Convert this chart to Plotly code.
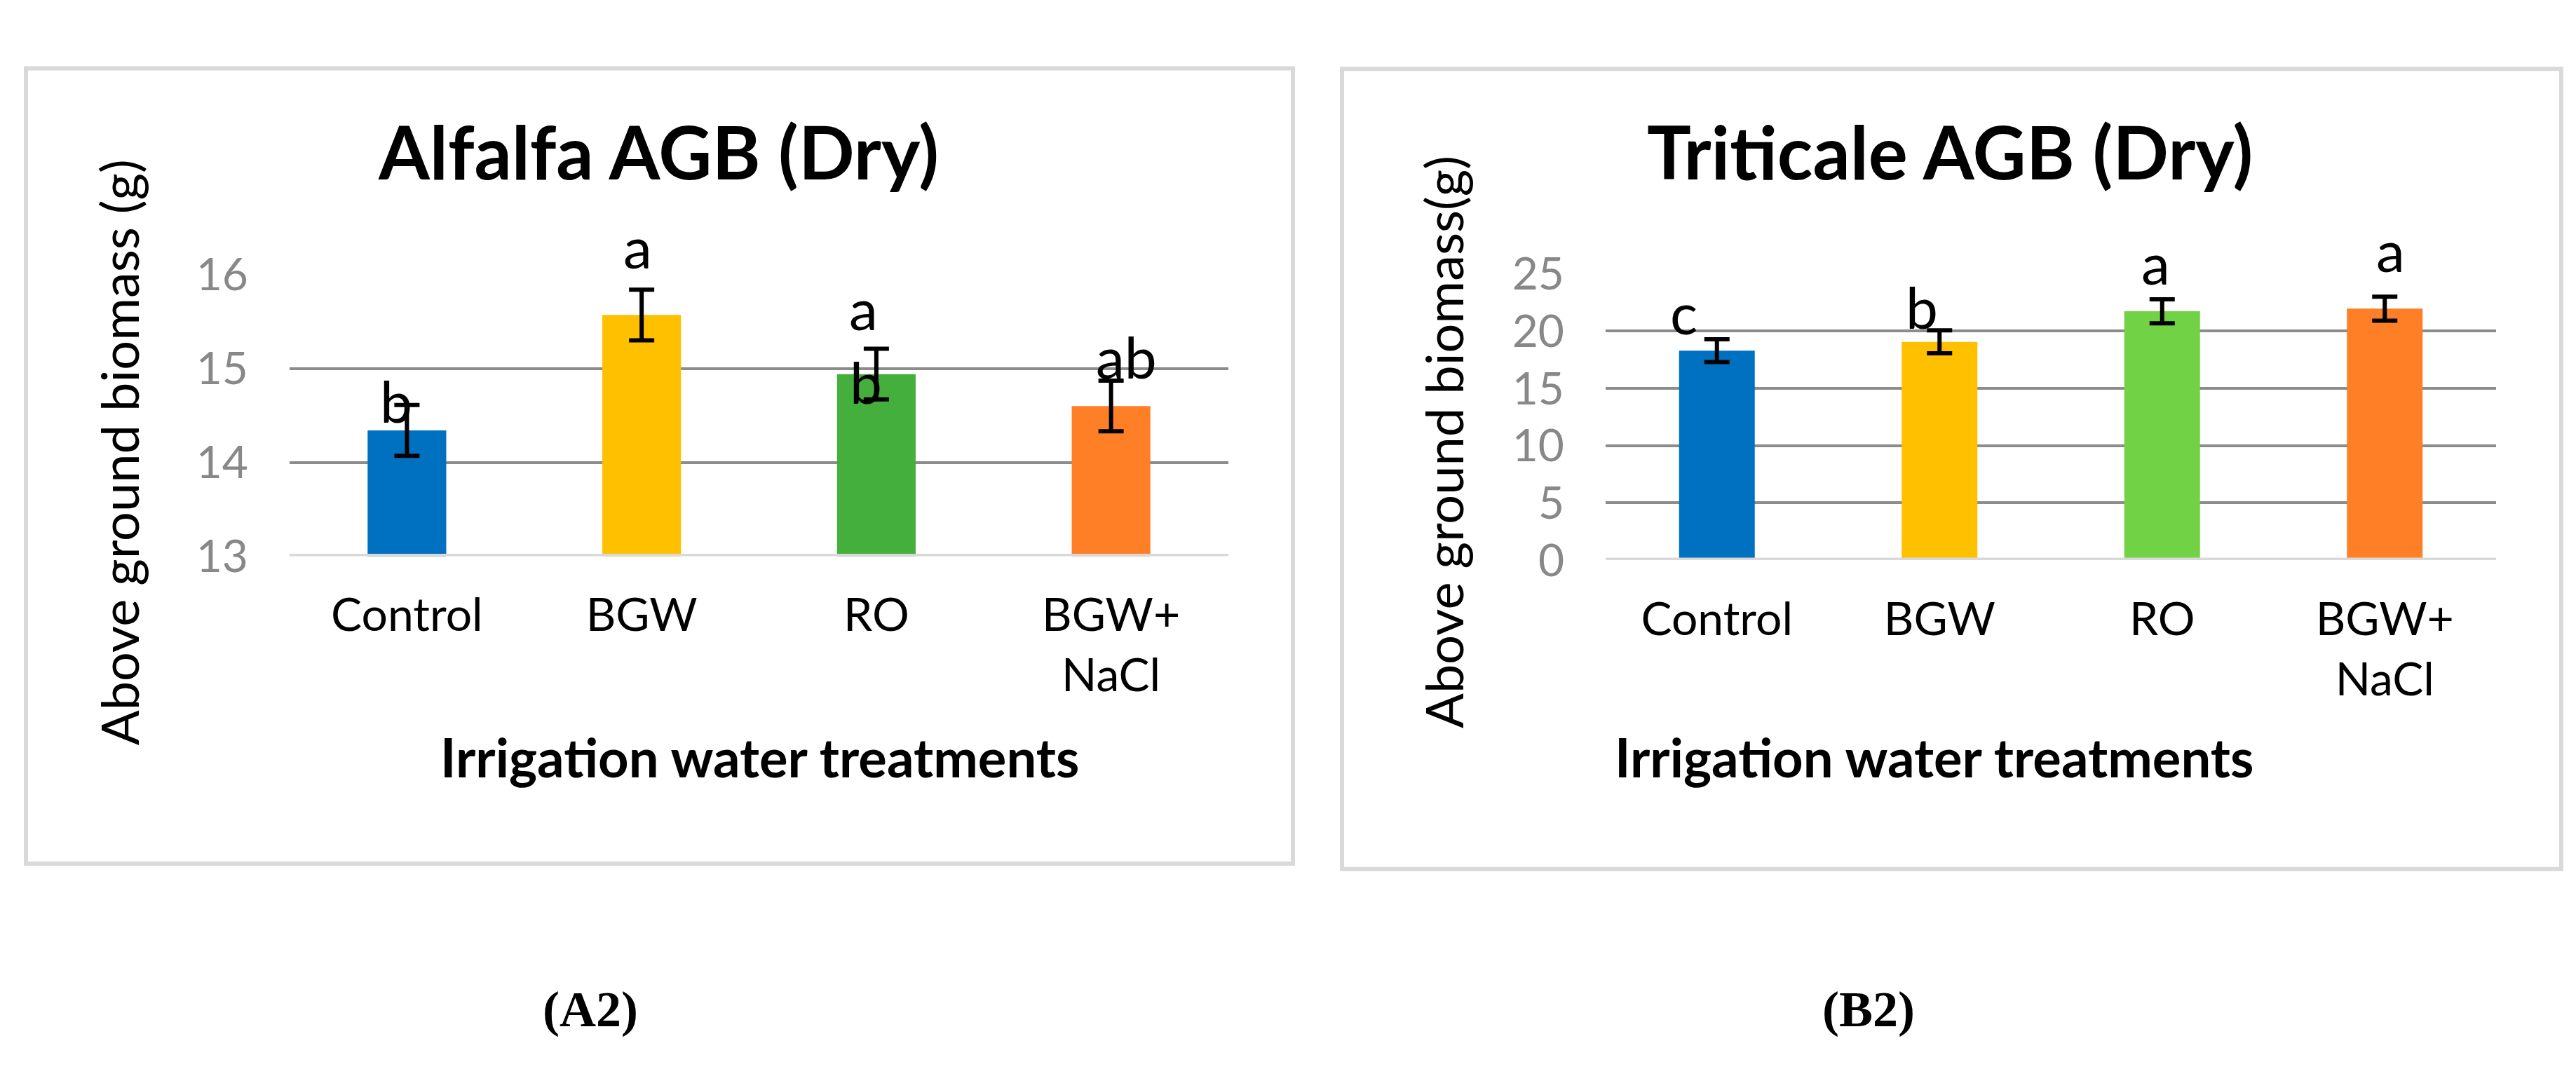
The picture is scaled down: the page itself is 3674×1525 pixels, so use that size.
import plotly.graph_objects as go

W, H = 3674, 1525  # tamaño de la página

# datos
categories = ["Control", "BGW", "RO", "BGW+<br>NaCl"]

alfalfa_dry = [14.34, 15.57, 14.94, 14.60]
alfalfa_err = [0.27, 0.27, 0.27, 0.27]
alfalfa_letters = ["b", "a", "a", "b", "ab"]
alfalfa_letter_cat = [0, 1, 2, 2, 3]
alfalfa_letter_y = [14.66, 16.29, 15.65, 14.86, 15.13]
alfalfa_letter_dx = [-15, -6, -18, -15, 22]

triticale_dry = [18.3, 19.07, 21.74, 21.97]
triticale_err = [1.0, 1.0, 1.05, 1.05]
triticale_letters = ["c", "b", "a", "a"]
triticale_letter_cat = [0, 1, 2, 3]
triticale_letter_y = [21.7, 22.15, 26.0, 27.0]
triticale_letter_dx = [-47, -25, -9, 8]

range_a = [13, 16]
range_b = [0, 25]

colors_a = ["#0070C0", "#FFC000", "#44AF3C", "#FF7F27"]
colors_b = ["#0070C0", "#FFC000", "#70D244", "#FF7F27"]

FONT = "Lato"
GRID = "#8C8C8C"
LIGHT = "#D9D9D9"

# posiciones de las áreas de trazado (en píxeles de la página)
A_X, A_Y = (405, 1744), (784, 361)
B_X, B_Y = (2282, 3552), (790, 360)


def px_x(v):
    return v / W


def px_y(v):
    return 1 - v / H


fig = go.Figure()

fig.add_trace(go.Bar(
    x=categories, y=alfalfa_dry, xaxis="x", yaxis="y",
    marker=dict(color=colors_a, line=dict(width=0)), width=0.335,
    error_y=dict(type="data", array=alfalfa_err, color="black", thickness=6, width=18),
    showlegend=False,
))
fig.add_trace(go.Bar(
    x=categories, y=triticale_dry, xaxis="x2", yaxis="y2",
    marker=dict(color=colors_b, line=dict(width=0)), width=0.34,
    error_y=dict(type="data", array=triticale_err, color="black", thickness=6, width=18),
    showlegend=False,
))

axis_x = dict(showgrid=False, showline=False, ticks="", zeroline=False,
              tickfont=dict(family=FONT, size=66, color="black"), ticklabelstandoff=40)
axis_y = dict(showgrid=True, gridcolor=GRID, gridwidth=4, showline=False, ticks="",
              zeroline=False, tickfont=dict(family=FONT, size=64, color="#888888"),
              ticklabelstandoff=58)

fig.update_layout(
    width=W, height=H, margin=dict(l=0, r=0, t=0, b=0),
    paper_bgcolor="white", plot_bgcolor="white",
    xaxis=dict(axis_x, domain=[px_x(A_X[0]), px_x(A_X[1])], anchor="y"),
    yaxis=dict(axis_y, domain=[px_y(A_Y[0]), px_y(A_Y[1])], range=range_a, dtick=1, anchor="x"),
    xaxis2=dict(axis_x, domain=[px_x(B_X[0]), px_x(B_X[1])], anchor="y2"),
    yaxis2=dict(axis_y, domain=[px_y(B_Y[0]), px_y(B_Y[1])], range=range_b, dtick=5, anchor="x2"),
    bargap=0.665,
)

shapes = [
    # marcos de cada gráfico
    dict(type="rect", xref="paper", yref="paper", x0=px_x(29), x1=px_x(1836),
         y0=px_y(1246), y1=px_y(51), line=dict(color=LIGHT, width=6)),
    dict(type="rect", xref="paper", yref="paper", x0=px_x(1906), x1=px_x(3645),
         y0=px_y(1254), y1=px_y(52), line=dict(color=LIGHT, width=6)),
    # línea base del eje x
    dict(type="line", xref="x domain", yref="y", x0=0, x1=1, y0=range_a[0], y1=range_a[0],
         line=dict(color=LIGHT, width=7), layer="above"),
    dict(type="line", xref="x2 domain", yref="y2", x0=0, x1=1, y0=range_b[0], y1=range_b[0],
         line=dict(color=LIGHT, width=7), layer="above"),
]
fig.update_layout(shapes=shapes)


def letter_ann(t, cat, y, dx, xref, yref, rng, ypx):
    # plotly oculta anotaciones fuera del rango: se fijan al borde y se desplazan en px
    ppu = (ypx[0] - ypx[1]) / (rng[1] - rng[0])
    shift = 0
    if y > rng[1]:
        shift = (y - rng[1]) * ppu
        y = rng[1]
    return dict(text=t, x=categories[cat], y=y, xref=xref, yref=yref, xshift=dx, yshift=shift,
                showarrow=False, xanchor="center", yanchor="middle",
                font=dict(family=FONT, size=82, color="black"))


ann = []
for t, c, y, dx in zip(alfalfa_letters, alfalfa_letter_cat, alfalfa_letter_y, alfalfa_letter_dx):
    ann.append(letter_ann(t, c, y, dx, "x", "y", range_a, A_Y))
for t, c, y, dx in zip(triticale_letters, triticale_letter_cat, triticale_letter_y, triticale_letter_dx):
    ann.append(letter_ann(t, c, y, dx, "x2", "y2", range_b, B_Y))


def label(text, x, y, size, family=FONT, angle=0):
    return dict(text=text, x=px_x(x), y=px_y(y), xref="paper", yref="paper",
                xanchor="center", yanchor="middle", textangle=angle, showarrow=False,
                font=dict(family=family, size=size, color="black"))


# títulos
ann += [
    label("<b>Alfalfa AGB (Dry)</b>", 931, 175, 105),
    label("<b>Triticale AGB (Dry)</b>", 2773, 175, 105),
    label("Above ground biomass (g)", 161, 628, 74, angle=-90),
    label("Above ground biomass(g)", 2050, 613, 74, angle=-90),
    label("<b>Irrigation water treatments</b>", 1075, 1085, 76),
    label("<b>Irrigation water treatments</b>", 2750, 1085, 76),
    label("<b>(A2)</b>", 834, 1465, 72, family="Liberation Serif"),
    label("<b>(B2)</b>", 2657, 1465, 72, family="Liberation Serif"),
]
fig.update_layout(annotations=ann)

fig.write_html("out.html")
